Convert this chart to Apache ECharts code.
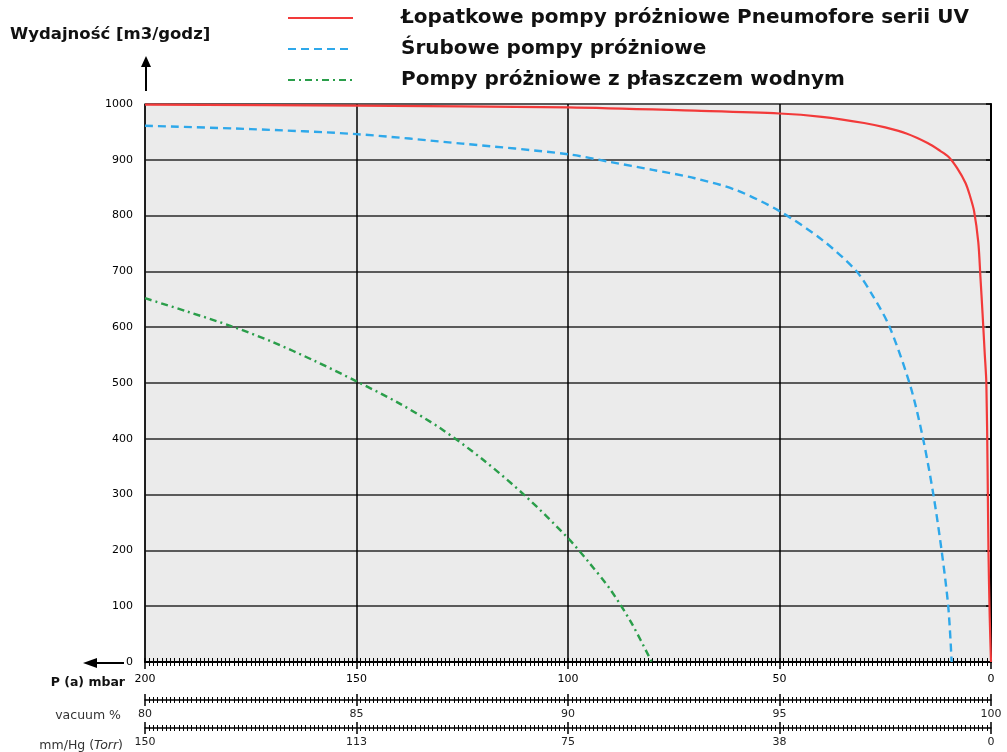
<!DOCTYPE html>
<html>
<head>
<meta charset="utf-8">
<script src="https://cdn.jsdelivr.net/npm/echarts@6/dist/echarts.min.js"></script>
<style>
html,body{margin:0;padding:0;background:#fff;}
#chart{width:1007px;height:752px;}
</style>
</head>
<body>
<div id="chart"></div>
<script>
// ---- data (pressure in mbar, capacity in m3/h) ----
const seriesNames = [
  'Łopatkowe pompy próżniowe Pneumofore serii UV',
  'Śrubowe pompy próżniowe',
  'Pompy próżniowe z płaszczem wodnym'
];
const redP   = [200, 150, 100, 70, 50, 40, 30, 25, 20, 15, 12, 10, 8, 6, 5, 4, 3, 2.5, 2, 1.5, 1.1, 0.8, 0.6, 0.3, 0];
const redV   = [999, 997, 994, 988, 983, 977, 966, 958, 947, 930, 916, 905, 885, 858, 836, 808, 752, 690, 625, 555, 500, 340, 200, 80, 0];
const blueP  = [200, 175, 150, 125, 100, 90, 80, 70, 60, 50, 40, 32, 28, 24, 19, 16, 13.6, 11.7, 10.1, 9.3];
const blueV  = [961, 955, 946, 929, 910, 896, 882, 867, 845, 808, 757, 702, 657, 601, 493, 398, 299, 201, 99, 0];
const greenP = [200, 190, 180, 170, 160, 150, 140, 130, 120, 110, 100, 95, 90, 85, 80.2];
const greenV = [652, 628, 603, 574, 540, 503, 464, 418, 362, 297, 222, 178, 130, 70, 0];
const mbarRange = [0, 200];
const vacuumRange = [80, 100];
const torrRange = [0, 150];
const yRange = [0, 1000];

const pairs = (xs, ys) => xs.map((x, i) => [x, ys[i]]);
const FONT = 'DejaVu Sans';

function bottomAxis(o) {
  return {
    type: 'value', position: 'bottom', gridIndex: 0,
    min: o.min, max: o.max, interval: o.interval, inverse: o.inverse, offset: o.offset || 0,
    axisLine: { show: !o.inside, onZero: false, lineStyle: { color: '#000', width: o.lineW || 1.5 } },
    axisTick: { show: true, inside: !!o.inside, length: o.tickLen, lineStyle: { color: '#000', width: 1.5 } },
    minorTick: { show: true, splitNumber: o.minorSplit, length: o.minorLen, lineStyle: { color: '#000', width: 1 } },
    splitLine: { show: !!o.split, lineStyle: { color: '#000', width: 1.5 } },
    axisLabel: {
      show: !o.inside, margin: o.margin, fontFamily: FONT, fontSize: 11, color: o.labelColor || '#000',
      formatter: o.formatter
    }
  };
}

const chart = echarts.init(document.getElementById('chart'), null, { renderer: 'canvas' });

function legendFor(i, top) {
  return {
    data: [seriesNames[i]], left: 287, top: top, orient: 'vertical',
    itemWidth: 65, itemHeight: 14, selectedMode: false, padding: 0,
    itemStyle: { opacity: 0, borderWidth: 0 },
    textStyle: { fontFamily: FONT, fontWeight: 'bold', fontSize: 20, color: '#111', padding: [0, 0, 0, 43] }
  };
}

const option = {
  animation: false,
  backgroundColor: '#fff',
  grid: { left: 145, right: 16, top: 104, bottom: 90, show: true, backgroundColor: '#ebebeb', borderColor: '#555', borderWidth: 1.5 },
  legend: [legendFor(0, 8), legendFor(1, 39), legendFor(2, 70)],
  xAxis: [
    bottomAxis({ min: mbarRange[0], max: mbarRange[1], interval: 50, inverse: true, tickLen: 7, minorSplit: 50, minorLen: 4, margin: 12, split: true, lineW: 2 }),
    bottomAxis({ min: mbarRange[0], max: mbarRange[1], interval: 50, inverse: true, tickLen: 4, minorSplit: 50, minorLen: 4, inside: true }),
    bottomAxis({ min: vacuumRange[0], max: vacuumRange[1], interval: 5, inverse: false, offset: 38, tickLen: 6, minorSplit: 50, minorLen: 3, margin: 9, labelColor: '#222' }),
    bottomAxis({ min: vacuumRange[0], max: vacuumRange[1], interval: 5, inverse: false, offset: 38, tickLen: 6, minorSplit: 50, minorLen: 3, inside: true }),
    bottomAxis({ min: torrRange[0], max: torrRange[1], interval: 37.5, inverse: true, offset: 66, tickLen: 6, minorSplit: 50, minorLen: 3, margin: 9, labelColor: '#222', formatter: v => String(Math.round(v)) }),
    bottomAxis({ min: torrRange[0], max: torrRange[1], interval: 37.5, inverse: true, offset: 66, tickLen: 6, minorSplit: 50, minorLen: 3, inside: true })
  ],
  yAxis: {
    type: 'value', min: yRange[0], max: yRange[1], interval: 100,
    axisLine: { show: true, lineStyle: { color: '#000', width: 2 } },
    axisTick: { show: true, length: 5, lineStyle: { color: '#000', width: 1.5 } },
    splitLine: { show: true, lineStyle: { color: '#5a5a5a', width: 2 } },
    axisLabel: { margin: 12, fontFamily: FONT, fontSize: 11, color: '#000', formatter: v => String(v) }
  },
  series: [
    { name: seriesNames[0], type: 'line', xAxisIndex: 0, data: pairs(redP, redV), symbol: 'none', smooth: 0.3,
      lineStyle: { color: '#f23a3a', width: 2.2, type: 'solid' }, itemStyle: { color: '#f23a3a' }, z: 5 },
    { name: seriesNames[1], type: 'line', xAxisIndex: 0, data: pairs(blueP, blueV), symbol: 'none', smooth: 0.3,
      lineStyle: { color: '#2ea8ea', width: 2.4, type: [8, 5] }, itemStyle: { color: '#2ea8ea' }, z: 4 },
    { name: seriesNames[2], type: 'line', xAxisIndex: 0, data: pairs(greenP, greenV), symbol: 'none', smooth: 0.3,
      lineStyle: { color: '#2a9e4a', width: 2.4, type: [7, 4, 2, 4] }, itemStyle: { color: '#2a9e4a' }, z: 3 }
  ],
  graphic: [
    { type: 'text', style: { text: 'Wydajność [m3/godz]', x: 10, y: 35, font: 'bold 16.5px "DejaVu Sans"', fill: '#111', align: 'left', verticalAlign: 'middle' } },
    { type: 'line', shape: { x1: 146, y1: 91, x2: 146, y2: 64 }, style: { stroke: '#000', lineWidth: 2 } },
    { type: 'polygon', shape: { points: [[141, 67], [151, 67], [146, 56]] }, style: { fill: '#000' } },
    { type: 'line', shape: { x1: 94, y1: 663, x2: 124, y2: 663 }, style: { stroke: '#000', lineWidth: 2 } },
    { type: 'polygon', shape: { points: [[83, 663], [97, 658], [97, 668]] }, style: { fill: '#000' } },
    { type: 'text', style: { text: 'P (a) mbar', x: 125, y: 683, font: 'bold 12.5px "DejaVu Sans"', fill: '#111', align: 'right', verticalAlign: 'middle' } },
    { type: 'text', style: { text: 'vacuum %', x: 121, y: 716, font: '12.5px "DejaVu Sans"', fill: '#333', align: 'right', verticalAlign: 'middle' } },
    { type: 'text', style: { text: 'mm/Hg ({i|Torr})', x: 123, y: 746, font: '12.5px "DejaVu Sans"', fill: '#333', align: 'right', verticalAlign: 'middle',
      rich: { i: { fontStyle: 'italic', fontFamily: FONT, fontSize: 12.5, fill: '#333' } } } }
  ]
};
chart.setOption(option);
</script>
</body>
</html>
